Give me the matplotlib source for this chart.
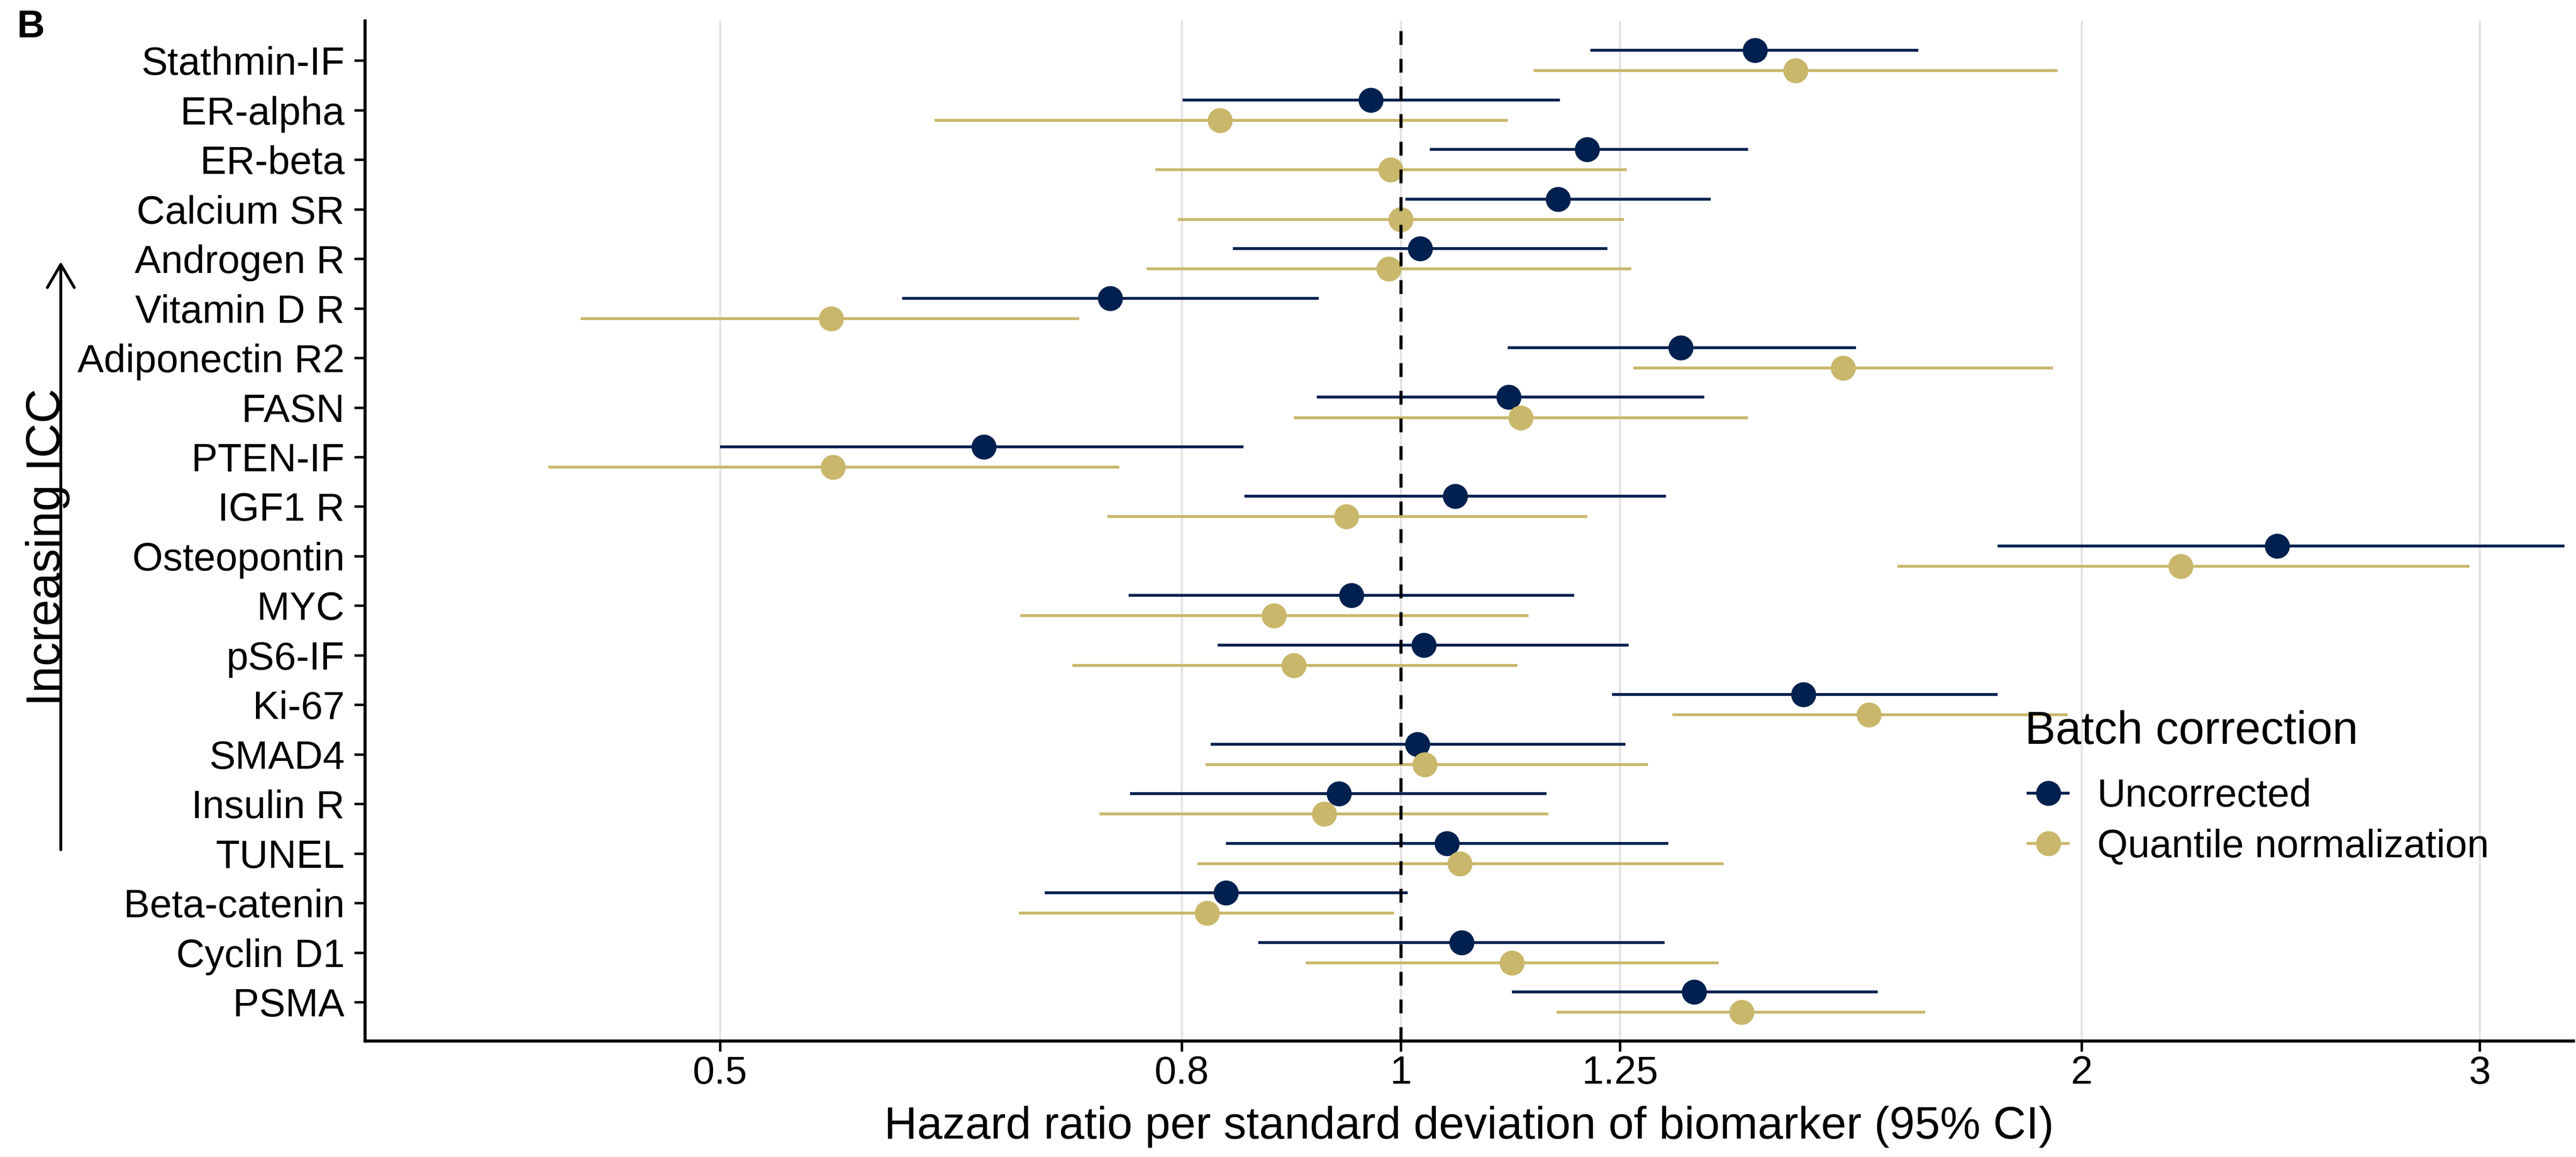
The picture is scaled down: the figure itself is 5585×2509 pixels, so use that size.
import numpy as np
import matplotlib
matplotlib.use("Agg")
import matplotlib.pyplot as plt
from matplotlib.lines import Line2D
from matplotlib.patches import FancyArrowPatch

plt.rcParams['font.family'] = ['Liberation Sans', 'DejaVu Sans']

# biomarkers, top to bottom (ordered by ICC)
markers = ["Stathmin-IF", "ER-alpha", "ER-beta", "Calcium SR", "Androgen R",
           "Vitamin D R", "Adiponectin R2", "FASN", "PTEN-IF", "IGF1 R",
           "Osteopontin", "MYC", "pS6-IF", "Ki-67", "SMAD4", "Insulin R",
           "TUNEL", "Beta-catenin", "Cyclin D1", "PSMA"]

# hazard ratios and 95% CI, uncorrected
hr_unc = [1.434, 0.970, 1.209, 1.174, 1.020, 0.744, 1.330, 1.116, 0.654, 1.057,
          2.441, 0.951, 1.024, 1.507, 1.017, 0.939, 1.048, 0.837, 1.064, 1.348]
lo_unc = [1.213, 0.801, 1.030, 1.005, 0.843, 0.602, 1.115, 0.918, 0.500, 0.853,
          1.836, 0.758, 0.830, 1.240, 0.824, 0.759, 0.837, 0.696, 0.865, 1.120]
hi_unc = [1.694, 1.176, 1.424, 1.371, 1.234, 0.920, 1.590, 1.362, 0.852, 1.310,
          3.270, 1.193, 1.261, 1.836, 1.257, 1.160, 1.313, 1.007, 1.308, 1.625]

# hazard ratios and 95% CI, quantile normalization
hr_qn = [1.495, 0.832, 0.990, 1.000, 0.988, 0.560, 1.569, 1.130, 0.561, 0.946,
         2.213, 0.879, 0.897, 1.611, 1.025, 0.925, 1.062, 0.821, 1.120, 1.415]
lo_qn = [1.145, 0.622, 0.779, 0.797, 0.772, 0.434, 1.267, 0.897, 0.420, 0.742,
         1.658, 0.679, 0.716, 1.319, 0.820, 0.736, 0.813, 0.678, 0.908, 1.172]
hi_qn = [1.952, 1.115, 1.259, 1.255, 1.265, 0.721, 1.943, 1.424, 0.751, 1.209,
         2.968, 1.139, 1.126, 1.972, 1.286, 1.162, 1.389, 0.993, 1.382, 1.706]

xticks = [0.5, 0.8, 1, 1.25, 2, 3]
xtick_labels = ["0.5", "0.8", "1", "1.25", "2", "3"]

navy = "#00214F"
gold = "#C9B76B"

fig = plt.figure(figsize=(5585 / 300, 2509 / 300), dpi=300)
ax = fig.add_axes([0.1416, 0.1004, 0.999 - 0.1416, 0.982 - 0.1004])

ypos = np.arange(len(markers))
groups = [("Uncorrected", hr_unc, lo_unc, hi_unc, navy, -0.205),
          ("Quantile normalization", hr_qn, lo_qn, hi_qn, gold, 0.205)]

for name, hr, lo, hi, col, off in groups:
    y = ypos + off
    ax.hlines(y, lo, hi, color=col, lw=1.5, zorder=3)
    ax.plot(hr, y, "o", color=col, ms=13, mec="none", zorder=4)

ax.axvline(1, color="black", lw=1.6, dashes=(4.5, 4.5), zorder=5)

ax.set_xscale("log")
ax.set_xlim(0.3483, 3.30)
ax.set_xticks(xticks)
ax.set_xticklabels(xtick_labels)
ax.xaxis.set_minor_locator(matplotlib.ticker.NullLocator())
ax.set_ylim(19.78, -0.8)
ax.set_yticks(ypos)
ax.set_yticklabels(markers)

ax.grid(axis="x", color="#E3E3E3", lw=1.1, zorder=0)
ax.set_axisbelow(True)
for s in ["top", "right"]:
    ax.spines[s].set_visible(False)
for s in ["left", "bottom"]:
    ax.spines[s].set_linewidth(1.6)
ax.tick_params(axis="both", length=5.5, width=1.3, labelsize=20.5, color="black")
ax.tick_params(axis="x", pad=2)
ax.tick_params(axis="y", pad=5)

ax.set_xlabel("Hazard ratio per standard deviation of biomarker (95% CI)",
              fontsize=23.7, labelpad=7)

# ICC direction label and arrow on the far left
fig.text(0.0232, 0.527, "Increasing ICC", rotation=90, rotation_mode="anchor",
         ha="center", va="baseline", fontsize=25)
arrow = FancyArrowPatch((0.0236, 0.2623), (0.0236, 0.7772),
                        transform=fig.transFigure,
                        arrowstyle="->,head_length=0.6,head_width=0.35",
                        mutation_scale=20, lw=1.5, color="black")
fig.patches.append(arrow)

fig.text(0.0065, 0.992, "B", fontsize=20, fontweight="bold", va="top", ha="left")

# legend: title placed separately so its gap to the entries can be set freely
fig.text(0.7860, 0.3571, "Batch correction", fontsize=24, va="baseline", ha="left")
handles = [Line2D([], [], color=c, marker="o", ms=13, mec="none", lw=1.5)
           for c in (navy, gold)]
leg = fig.legend(handles, ["Uncorrected", "Quantile normalization"],
                 loc="center left", bbox_to_anchor=(0.7873, 0.2896),
                 frameon=False, fontsize=20.5, handlelength=1.02,
                 handletextpad=0.73, labelspacing=0.35, borderpad=0,
                 borderaxespad=0)

fig.savefig("out.png", dpi=300)
